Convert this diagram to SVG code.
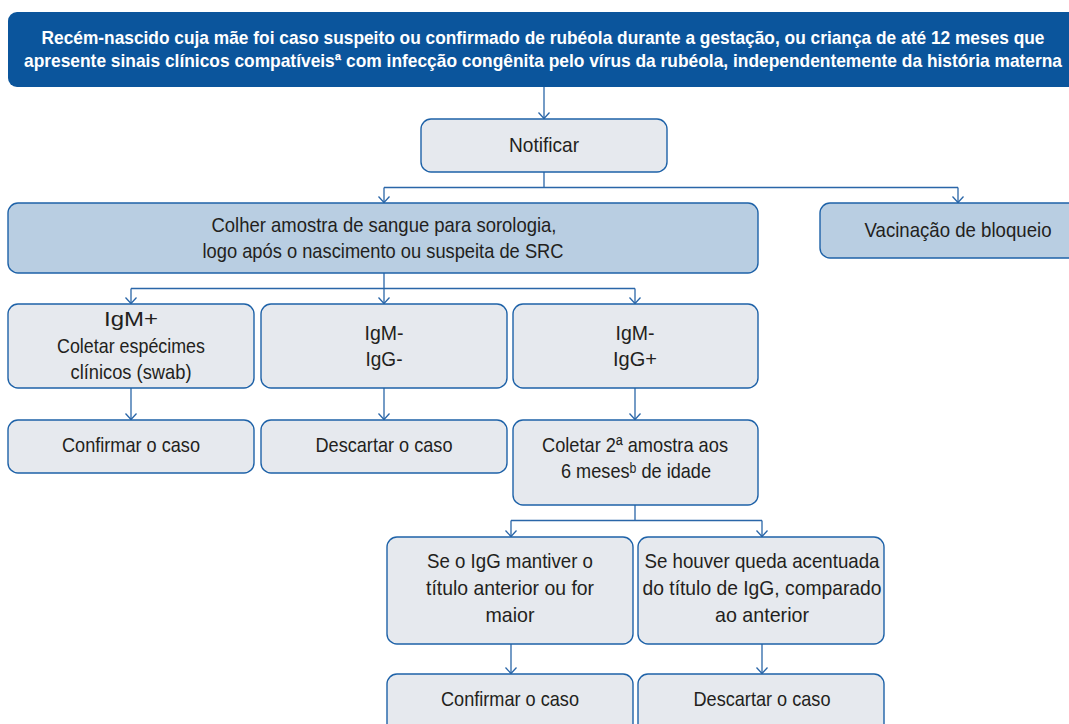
<svg xmlns="http://www.w3.org/2000/svg" width="1069" height="724" viewBox="0 0 1069 724">
<style>
.box{stroke:#1e62a8;stroke-width:1.4}
.light{fill:#e6e9ee}
.mid{fill:#b9cee2}
.t{font-family:"Liberation Sans","DejaVu Sans",Arial,sans-serif;font-size:21px;fill:#231f20;text-anchor:middle}
.h{font-family:"Liberation Sans",Arial,sans-serif;font-size:19px;font-weight:bold;fill:#ffffff;text-anchor:middle}
.c{fill:none;stroke:#2a66a8;stroke-width:1.3}
</style>
<defs>
<marker id="arr" markerUnits="userSpaceOnUse" viewBox="-8 -7 9 14" refX="0" refY="0" markerWidth="9" markerHeight="14" orient="auto">
<path d="M-6,-5.5 L0,0 L-6,5.5" fill="none" stroke="#2a66a8" stroke-width="1.3"/>
</marker>
</defs>
<rect width="1069" height="724" fill="#ffffff"/>
<g id="connectors" class="c">
<path d="M544,87 V118.5" marker-end="url(#arr)"/>
<path d="M544,172 V187.5 M384,187.5 H958"/>
<path d="M384,187.5 V202.5" marker-end="url(#arr)"/>
<path d="M958,187.5 V202.5" marker-end="url(#arr)"/>
<path d="M384,273 V288.5 M131,288.5 H635"/>
<path d="M131,288.5 V303.5" marker-end="url(#arr)"/>
<path d="M384,288.5 V303.5" marker-end="url(#arr)"/>
<path d="M635,288.5 V303.5" marker-end="url(#arr)"/>
<path d="M131,388 V419.5" marker-end="url(#arr)"/>
<path d="M384,388 V419.5" marker-end="url(#arr)"/>
<path d="M635,388 V419.5" marker-end="url(#arr)"/>
<path d="M635,505 V520.5 M511,520.5 H762"/>
<path d="M511,520.5 V536.5" marker-end="url(#arr)"/>
<path d="M762,520.5 V536.5" marker-end="url(#arr)"/>
<path d="M511,644 V673.5" marker-end="url(#arr)"/>
<path d="M762,644 V673.5" marker-end="url(#arr)"/>
</g>
<g id="header">
<path d="M8,21 A9,9 0 0 1 17,12 H1069 V87 H17 A9,9 0 0 1 8,78 Z" fill="#0b559c"/>
<text class="h" x="543" y="44" textLength="1003" lengthAdjust="spacingAndGlyphs">Recém-nascido cuja mãe foi caso suspeito ou confirmado de rubéola durante a gestação, ou criança de até 12 meses que</text>
<text class="h" x="543" y="67" textLength="1038" lengthAdjust="spacingAndGlyphs">apresente sinais clínicos compatíveisª com infecção congênita pelo vírus da rubéola, independentemente da história materna</text>
</g>
<g id="notificar">
<rect class="box light" x="421" y="119" width="246" height="53" rx="10"/>
<text class="t" x="544" y="152" textLength="70" lengthAdjust="spacingAndGlyphs">Notificar</text>
</g>
<g id="colher">
<rect class="box mid" x="8" y="203" width="750" height="70" rx="10"/>
<text class="t" x="384" y="232" textLength="345" lengthAdjust="spacingAndGlyphs">Colher amostra de sangue para sorologia,</text>
<text class="t" x="383" y="258" textLength="361" lengthAdjust="spacingAndGlyphs">logo após o nascimento ou suspeita de SRC</text>
</g>
<g id="vacinacao">
<path class="box mid" d="M820,213 A10,10 0 0 1 830,203 H1070 V258 H830 A10,10 0 0 1 820,248 Z"/>
<text class="t" x="958" y="237" textLength="187" lengthAdjust="spacingAndGlyphs">Vacinação de bloqueio</text>
</g>
<g id="igm-pos">
<rect class="box light" x="8" y="304" width="246" height="84" rx="10"/>
<text class="t" x="131" y="326" textLength="54" lengthAdjust="spacingAndGlyphs">IgM+</text>
<text class="t" x="131" y="353" textLength="148" lengthAdjust="spacingAndGlyphs">Coletar espécimes</text>
<text class="t" x="131" y="379" textLength="121" lengthAdjust="spacingAndGlyphs">clínicos (swab)</text>
</g>
<g id="igm-neg-igg-neg">
<rect class="box light" x="261" y="304" width="246" height="84" rx="10"/>
<text class="t" x="384" y="340" textLength="39" lengthAdjust="spacingAndGlyphs">IgM-</text>
<text class="t" x="384" y="366" textLength="37" lengthAdjust="spacingAndGlyphs">IgG-</text>
</g>
<g id="igm-neg-igg-pos">
<rect class="box light" x="513" y="304" width="245" height="84" rx="10"/>
<text class="t" x="635" y="340" textLength="39" lengthAdjust="spacingAndGlyphs">IgM-</text>
<text class="t" x="635" y="366" textLength="44" lengthAdjust="spacingAndGlyphs">IgG+</text>
</g>
<g id="confirmar1">
<rect class="box light" x="8" y="420" width="246" height="53" rx="10"/>
<text class="t" x="131" y="452" textLength="138" lengthAdjust="spacingAndGlyphs">Confirmar o caso</text>
</g>
<g id="descartar1">
<rect class="box light" x="261" y="420" width="246" height="53" rx="10"/>
<text class="t" x="384" y="452" textLength="137" lengthAdjust="spacingAndGlyphs">Descartar o caso</text>
</g>
<g id="coletar2">
<rect class="box light" x="513" y="420" width="245" height="85" rx="10"/>
<text class="t" x="635" y="452" textLength="186" lengthAdjust="spacingAndGlyphs">Coletar 2ª amostra aos</text>
<text class="t" x="636" y="478" textLength="150" lengthAdjust="spacingAndGlyphs">6 mesesᵇ de idade</text>
</g>
<g id="mantiver">
<rect class="box light" x="387" y="537" width="246" height="107" rx="10"/>
<text class="t" x="510" y="568" textLength="166" lengthAdjust="spacingAndGlyphs">Se o IgG mantiver o</text>
<text class="t" x="510" y="595" textLength="168" lengthAdjust="spacingAndGlyphs">título anterior ou for</text>
<text class="t" x="510" y="622" textLength="49" lengthAdjust="spacingAndGlyphs">maior</text>
</g>
<g id="queda">
<rect class="box light" x="638" y="537" width="246" height="107" rx="10"/>
<text class="t" x="762" y="568" textLength="235" lengthAdjust="spacingAndGlyphs">Se houver queda acentuada</text>
<text class="t" x="762" y="595" textLength="239" lengthAdjust="spacingAndGlyphs">do título de IgG, comparado</text>
<text class="t" x="762" y="622" textLength="94" lengthAdjust="spacingAndGlyphs">ao anterior</text>
</g>
<g id="confirmar2">
<rect class="box light" x="387" y="674" width="246" height="60" rx="10"/>
<text class="t" x="510" y="706" textLength="138" lengthAdjust="spacingAndGlyphs">Confirmar o caso</text>
</g>
<g id="descartar2">
<rect class="box light" x="638" y="674" width="246" height="60" rx="10"/>
<text class="t" x="762" y="706" textLength="137" lengthAdjust="spacingAndGlyphs">Descartar o caso</text>
</g>
</svg>
